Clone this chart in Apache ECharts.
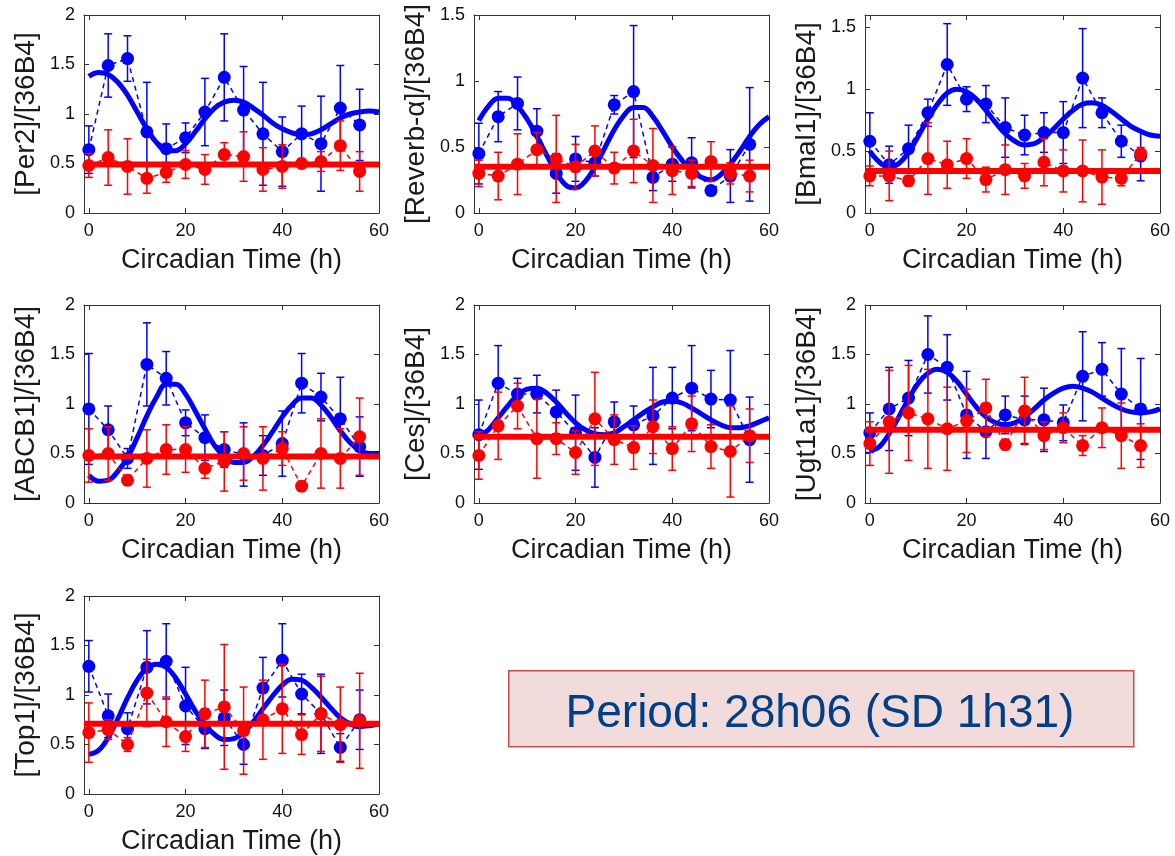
<!DOCTYPE html>
<html>
<head>
<meta charset="utf-8">
<title>Circadian Time</title>
<script src="https://cdn.jsdelivr.net/npm/echarts@6/dist/echarts.min.js"></script>
<style>
  html, body { margin: 0; padding: 0; background: #fff; }
  #main { width: 1175px; height: 856px; }
</style>
</head>
<body>
<div id="main"></div>
<script>
// sampling times (h) and times where the fitted curve was read
var TIMES = [0, 4, 8, 12, 16, 20, 24, 28, 32, 36, 40, 44, 48, 52, 56];
var FIT_TIMES = [0, 2, 4, 6, 8, 10, 12, 14, 16, 18, 20, 22, 24, 26, 28, 30, 32, 34, 36, 38, 40, 42, 44, 46, 48, 50, 52, 54, 56, 58, 60];
var X_TICKS = [0, 20, 40, 60];
var Y_TICKS_20 = [0, 0.5, 1, 1.5, 2];
var Y_TICKS_15 = [0, 0.5, 1, 1.5];

// Per2
var per2Blue    = [0.64, 1.49, 1.56, 0.82, 0.65, 0.76, 1.02, 1.37, 1.04, 0.80, 0.62, 0.80, 0.70, 1.06, 0.89];
var per2BlueErr = [0.24, 0.32, 0.23, 0.50, 0.25, 0.15, 0.34, 0.44, 0.44, 0.52, 0.35, 0.28, 0.48, 0.43, 0.36];
var per2Red     = [0.48, 0.56, 0.47, 0.35, 0.41, 0.49, 0.44, 0.59, 0.57, 0.44, 0.47, 0.50, 0.52, 0.68, 0.42];
var per2RedErr  = [0.12, 0.28, 0.28, 0.15, 0.10, 0.14, 0.15, 0.12, 0.25, 0.22, 0.22, 0.05, 0.10, 0.25, 0.20];
var per2BlueFit = [1.38, 1.42, 1.40, 1.32, 1.19, 1.02, 0.85, 0.71, 0.63, 0.63, 0.70, 0.82, 0.95, 1.06, 1.12, 1.14, 1.12, 1.06, 0.99, 0.91, 0.85, 0.81, 0.79, 0.80, 0.84, 0.90, 0.96, 1.00, 1.02, 1.03, 1.02];
var per2RedFit  = 0.49;

// Reverb-alpha
var reverbBlue    = [0.45, 0.73, 0.83, 0.62, 0.30, 0.41, 0.38, 0.82, 0.92, 0.27, 0.37, 0.38, 0.17, 0.28, 0.52];
var reverbBlueErr = [0.23, 0.19, 0.20, 0.17, 0.15, 0.17, 0.10, 0.07, 0.50, 0.10, 0.13, 0.19, 0.03, 0.20, 0.43];
var reverbRed     = [0.30, 0.28, 0.37, 0.48, 0.41, 0.35, 0.47, 0.34, 0.47, 0.36, 0.32, 0.30, 0.39, 0.30, 0.28];
var reverbRedErr  = [0.10, 0.18, 0.23, 0.13, 0.33, 0.17, 0.19, 0.12, 0.24, 0.28, 0.18, 0.10, 0.15, 0.08, 0.12];
var reverbBlueFit = [0.70, 0.81, 0.87, 0.87, 0.81, 0.71, 0.58, 0.44, 0.31, 0.21, 0.19, 0.24, 0.35, 0.49, 0.63, 0.74, 0.80, 0.80, 0.73, 0.62, 0.50, 0.40, 0.32, 0.27, 0.25, 0.29, 0.37, 0.47, 0.58, 0.67, 0.73];
var reverbRedFit  = 0.35;

// Bmal1
var bmalBlue    = [0.58, 0.39, 0.52, 0.81, 1.20, 0.92, 0.88, 0.69, 0.63, 0.65, 0.65, 1.09, 0.81, 0.58, 0.46];
var bmalBlueErr = [0.23, 0.15, 0.19, 0.11, 0.33, 0.10, 0.15, 0.24, 0.16, 0.16, 0.25, 0.40, 0.12, 0.13, 0.20];
var bmalRed     = [0.30, 0.30, 0.26, 0.44, 0.39, 0.44, 0.27, 0.35, 0.30, 0.41, 0.34, 0.34, 0.29, 0.28, 0.48];
var bmalRedErr  = [0.08, 0.20, 0.04, 0.29, 0.19, 0.16, 0.10, 0.20, 0.10, 0.19, 0.17, 0.25, 0.22, 0.06, 0.05];
var bmalBlueFit = [0.50, 0.41, 0.37, 0.40, 0.49, 0.62, 0.76, 0.88, 0.97, 1.00, 0.98, 0.92, 0.83, 0.73, 0.64, 0.58, 0.55, 0.56, 0.61, 0.68, 0.76, 0.83, 0.88, 0.89, 0.87, 0.82, 0.76, 0.70, 0.66, 0.63, 0.62];
var bmalRedFit  = 0.34;

// ABCB1
var abcbBlue    = [0.95, 0.74, 0.45, 1.40, 1.26, 0.81, 0.66, 0.54, 0.49, 0.48, 0.60, 1.21, 1.07, 0.85, 0.57];
var abcbBlueErr = [0.56, 0.24, 0.10, 0.42, 0.27, 0.13, 0.23, 0.18, 0.32, 0.20, 0.33, 0.30, 0.24, 0.42, 0.30];
var abcbRed     = [0.48, 0.50, 0.23, 0.45, 0.54, 0.54, 0.35, 0.42, 0.50, 0.45, 0.55, 0.17, 0.50, 0.45, 0.67];
var abcbRedErr  = [0.27, 0.27, 0.05, 0.29, 0.25, 0.23, 0.10, 0.30, 0.27, 0.32, 0.17, 0.05, 0.35, 0.30, 0.39];
var abcbBlueFit = [0.28, 0.22, 0.23, 0.32, 0.46, 0.66, 0.88, 1.07, 1.20, 1.20, 1.10, 0.93, 0.75, 0.58, 0.47, 0.41, 0.41, 0.47, 0.58, 0.72, 0.87, 0.99, 1.06, 1.06, 0.99, 0.87, 0.73, 0.61, 0.53, 0.50, 0.50];
var abcbRedFit  = 0.47;

// Ces
var cesBlue    = [0.69, 1.21, 1.10, 1.10, 0.92, 0.71, 0.46, 0.82, 0.79, 0.88, 1.06, 1.16, 1.05, 1.04, 0.64];
var cesBlueErr = [0.35, 0.38, 0.16, 0.19, 0.22, 0.38, 0.30, 0.20, 0.19, 0.49, 0.31, 0.43, 0.29, 0.50, 0.43];
var cesRed     = [0.48, 0.78, 0.98, 0.65, 0.65, 0.51, 0.85, 0.64, 0.56, 0.77, 0.55, 0.80, 0.57, 0.52, 0.68];
var cesRedErr  = [0.24, 0.34, 0.23, 0.40, 0.16, 0.22, 0.47, 0.25, 0.22, 0.27, 0.22, 0.28, 0.22, 0.46, 0.27];
var cesBlueFit = [0.67, 0.74, 0.86, 0.98, 1.09, 1.15, 1.16, 1.11, 1.02, 0.91, 0.81, 0.74, 0.70, 0.69, 0.71, 0.77, 0.84, 0.91, 0.97, 1.02, 1.03, 1.01, 0.96, 0.90, 0.84, 0.79, 0.76, 0.76, 0.78, 0.82, 0.86];
var cesRedFit  = 0.67;

// Ugt1a1
var ugtBlue    = [0.71, 0.95, 1.06, 1.50, 1.37, 0.89, 0.72, 0.89, 0.84, 0.84, 0.81, 1.28, 1.35, 1.10, 0.95];
var ugtBlueErr = [0.20, 0.42, 0.38, 0.39, 0.33, 0.44, 0.27, 0.19, 0.24, 0.32, 0.18, 0.45, 0.27, 0.46, 0.51];
var ugtRed     = [0.60, 0.82, 0.91, 0.85, 0.75, 0.83, 0.96, 0.59, 0.93, 0.68, 0.76, 0.58, 0.76, 0.68, 0.58];
var ugtRedErr  = [0.22, 0.52, 0.48, 0.50, 0.42, 0.32, 0.29, 0.05, 0.34, 0.14, 0.15, 0.10, 0.20, 0.33, 0.22];
var ugtBlueFit = [0.53, 0.57, 0.70, 0.87, 1.05, 1.21, 1.31, 1.35, 1.32, 1.23, 1.10, 0.97, 0.87, 0.81, 0.79, 0.81, 0.87, 0.95, 1.04, 1.11, 1.16, 1.18, 1.16, 1.12, 1.06, 1.00, 0.95, 0.92, 0.91, 0.92, 0.95];
var ugtRedFit  = 0.74;

// Top1
var topBlue    = [1.29, 0.79, 0.66, 1.28, 1.34, 0.89, 0.66, 0.77, 0.50, 1.07, 1.35, 1.01, 0.81, 0.47, 0.75];
var topBlueErr = [0.26, 0.22, 0.16, 0.37, 0.38, 0.39, 0.20, 0.28, 0.20, 0.31, 0.37, 0.20, 0.40, 0.14, 0.30];
var topRed     = [0.62, 0.65, 0.50, 1.02, 0.73, 0.58, 0.81, 0.88, 0.64, 0.75, 0.86, 0.60, 0.81, 0.70, 0.74];
var topRedErr  = [0.30, 0.10, 0.07, 0.34, 0.25, 0.15, 0.34, 0.63, 0.44, 0.40, 0.45, 0.20, 0.38, 0.38, 0.48];
var topBlueFit = [0.40, 0.44, 0.57, 0.76, 0.97, 1.15, 1.27, 1.31, 1.28, 1.17, 1.01, 0.84, 0.70, 0.60, 0.55, 0.56, 0.62, 0.73, 0.86, 0.99, 1.10, 1.16, 1.15, 1.08, 0.98, 0.87, 0.77, 0.71, 0.68, 0.69, 0.71];
var topRedFit  = 0.71;

var panels = [
  { name: '[Per2]/[36B4]', ymax: 2, yticks: Y_TICKS_20, blue: per2Blue, blueErr: per2BlueErr, red: per2Red, redErr: per2RedErr, blueFit: per2BlueFit, redFit: per2RedFit },
  { name: '[Reverb-\u03b1]/[36B4]', ymax: 1.5, yticks: Y_TICKS_15, blue: reverbBlue, blueErr: reverbBlueErr, red: reverbRed, redErr: reverbRedErr, blueFit: reverbBlueFit, redFit: reverbRedFit },
  { name: '[Bmal1]/[36B4]', ymax: 1.6, yticks: Y_TICKS_15, blue: bmalBlue, blueErr: bmalBlueErr, red: bmalRed, redErr: bmalRedErr, blueFit: bmalBlueFit, redFit: bmalRedFit },
  { name: '[ABCB1]/[36B4]', ymax: 2, yticks: Y_TICKS_20, blue: abcbBlue, blueErr: abcbBlueErr, red: abcbRed, redErr: abcbRedErr, blueFit: abcbBlueFit, redFit: abcbRedFit },
  { name: '[Ces]/[36B4]', ymax: 2, yticks: Y_TICKS_20, blue: cesBlue, blueErr: cesBlueErr, red: cesRed, redErr: cesRedErr, blueFit: cesBlueFit, redFit: cesRedFit },
  { name: '[Ugt1a1]/[36B4]', ymax: 2, yticks: Y_TICKS_20, blue: ugtBlue, blueErr: ugtBlueErr, red: ugtRed, redErr: ugtRedErr, blueFit: ugtBlueFit, redFit: ugtRedFit },
  { name: '[Top1]/[36B4]', ymax: 2, yticks: Y_TICKS_20, blue: topBlue, blueErr: topBlueErr, red: topRed, redErr: topRedErr, blueFit: topBlueFit, redFit: topRedFit }
];

var BLUE = '#0000ff';
var RED = '#ff0000';
var AXIS = '#333';
var colLeft = [84, 474, 865];
var rowTop = [15, 305, 596];
var W = 295, H = 198;

var myChart = echarts.init(document.getElementById('main'));

// error bars drawn through the axis scale
function errorBars(color) {
  return function (params, api) {
    var x = api.value(0), y = api.value(1), e = api.value(2);
    var lo = api.coord([x, y - e]);
    var hi = api.coord([x, y + e]);
    var c = 4;
    var st = { stroke: color, lineWidth: 1.5 };
    return {
      type: 'group',
      children: [
        { type: 'line', shape: { x1: lo[0], y1: lo[1], x2: hi[0], y2: hi[1] }, style: st },
        { type: 'line', shape: { x1: hi[0] - c, y1: hi[1], x2: hi[0] + c, y2: hi[1] }, style: st },
        { type: 'line', shape: { x1: lo[0] - c, y1: lo[1], x2: lo[0] + c, y2: lo[1] }, style: st }
      ]
    };
  };
}

function pairs(xs, ys) {
  return xs.map(function (t, i) { return [t, ys[i]]; });
}
function triples(xs, ys, es) {
  return xs.map(function (t, i) { return [t, ys[i], es[i]]; });
}

var grids = [], xAxes = [], yAxes = [], series = [];

panels.forEach(function (p, i) {
  grids.push({ left: colLeft[i % 3], top: rowTop[Math.floor(i / 3)], width: W, height: H, containLabel: false });

  var xa = 2 * i, ya = 2 * i;
  // bottom + top x axes
  xAxes.push({
    type: 'value', gridIndex: i, min: -1, max: 60, position: 'bottom',
    name: 'Circadian Time (h)', nameLocation: 'middle', nameGap: 34,
    nameTextStyle: { fontSize: 27, color: '#1a1a1a' },
    axisLine: { show: true, onZero: false, lineStyle: { color: AXIS, width: 1 } },
    axisTick: { show: true, inside: true, length: 5, customValues: X_TICKS, lineStyle: { color: AXIS } },
    axisLabel: { show: true, customValues: X_TICKS, margin: 9, fontSize: 18, color: '#111' },
    splitLine: { show: false }
  });
  xAxes.push({
    type: 'value', gridIndex: i, min: -1, max: 60, position: 'top',
    axisLine: { show: true, onZero: false, lineStyle: { color: AXIS, width: 1 } },
    axisTick: { show: true, inside: true, length: 5, customValues: X_TICKS, lineStyle: { color: AXIS } },
    axisLabel: { show: false },
    splitLine: { show: false }
  });
  // left + right y axes
  yAxes.push({
    type: 'value', gridIndex: i, min: 0, max: p.ymax, position: 'left',
    name: p.name, nameLocation: 'middle', nameGap: 44, nameRotate: 90,
    nameTextStyle: { fontSize: 28, color: '#1a1a1a' },
    axisLine: { show: true, onZero: false, lineStyle: { color: AXIS, width: 1 } },
    axisTick: { show: true, inside: true, length: 5, customValues: p.yticks, lineStyle: { color: AXIS } },
    axisLabel: { show: true, customValues: p.yticks, margin: 9, fontSize: 18, color: '#111' },
    splitLine: { show: false }
  });
  yAxes.push({
    type: 'value', gridIndex: i, min: 0, max: p.ymax, position: 'right',
    axisLine: { show: true, onZero: false, lineStyle: { color: AXIS, width: 1 } },
    axisTick: { show: true, inside: true, length: 5, customValues: p.yticks, lineStyle: { color: AXIS } },
    axisLabel: { show: false },
    splitLine: { show: false }
  });

  series.push({
    type: 'custom', xAxisIndex: xa, yAxisIndex: ya, z: 2,
    renderItem: errorBars(BLUE), encode: { x: 0, y: 1 },
    data: triples(TIMES, p.blue, p.blueErr)
  });
  series.push({
    type: 'line', xAxisIndex: xa, yAxisIndex: ya, z: 3,
    symbol: 'circle', symbolSize: 13, showSymbol: true,
    itemStyle: { color: BLUE },
    lineStyle: { color: BLUE, width: 1.5, type: [5, 4] },
    data: pairs(TIMES, p.blue)
  });
  series.push({
    type: 'line', xAxisIndex: xa, yAxisIndex: ya, z: 4,
    smooth: 0.4, showSymbol: false, symbol: 'none',
    lineStyle: { color: BLUE, width: 5 },
    data: pairs(FIT_TIMES, p.blueFit)
  });
  series.push({
    type: 'custom', xAxisIndex: xa, yAxisIndex: ya, z: 5,
    renderItem: errorBars(RED), encode: { x: 0, y: 1 },
    data: triples(TIMES, p.red, p.redErr)
  });
  series.push({
    type: 'line', xAxisIndex: xa, yAxisIndex: ya, z: 6,
    symbol: 'circle', symbolSize: 13, showSymbol: true,
    itemStyle: { color: RED },
    lineStyle: { color: RED, width: 1.5, type: [5, 4] },
    data: pairs(TIMES, p.red)
  });
  series.push({
    type: 'line', xAxisIndex: xa, yAxisIndex: ya, z: 7,
    showSymbol: false, symbol: 'none',
    lineStyle: { color: RED, width: 6 },
    data: [[-1, p.redFit], [60, p.redFit]]
  });
});

var option = {
  animation: false,
  backgroundColor: '#fff',
  textStyle: { fontFamily: 'Liberation Sans, Arial, sans-serif' },
  grid: grids,
  xAxis: xAxes,
  yAxis: yAxes,
  series: series,
  graphic: [
    {
      type: 'rect', left: 508, top: 670,
      shape: { width: 625, height: 76 },
      style: { fill: '#f2dcdb', stroke: '#c0504d', lineWidth: 1.5 }
    },
    {
      type: 'text', x: 820, y: 714,
      style: {
        text: 'Period: 28h06 (SD 1h31)',
        fill: '#003f87', font: '46px "Liberation Sans", Arial, sans-serif',
        align: 'center', verticalAlign: 'middle'
      }
    }
  ]
};

myChart.setOption(option);
</script>
</body>
</html>
